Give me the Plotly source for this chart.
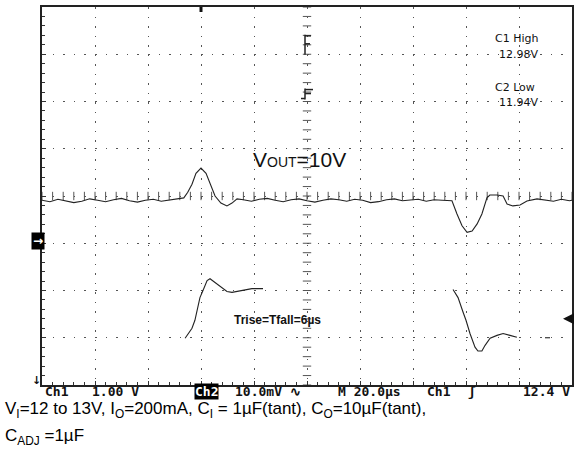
import plotly.graph_objects as go
import numpy as np

# ---------------- data (time in µs, Ch1 in V, Ch2 in mV) ----------------
ch2_t = [0, 3, 6, 9, 12, 15, 18, 21, 24, 27, 30, 33, 36, 39, 42, 45, 48, 51,
         53.5, 55, 56.6, 58.1, 60, 61.9, 63.4, 65.3, 67.5, 69.8, 71.7, 73.6,
         76, 79, 82, 85, 88, 91, 94, 97, 100, 103, 106, 109, 112, 115, 118, 121,
         124, 127, 130, 133, 136, 139, 142, 145, 148, 151,
         154.7, 156.6, 158.5, 160.4, 162.3, 164.2, 166, 167.9, 169, 171.7, 174,
         175.5, 177.7, 180.4, 183, 186.8,
         190, 193, 196, 199, 200]
ch2_mv = [-0.9, -1.2, -0.7, -1.0, -1.4, -1.1, -0.6, -0.9, -1.2, -0.8, -0.5, -1.0, -1.3, -0.9, -0.7, -1.1, -0.8, -0.6,
          -0.4, 0.8, 2.5, 4.8, 5.9, 4.8, 2.5, 0.0, -1.5, -2.1, -1.5, -0.6,
          -0.8, -1.1, -0.7, -0.5, -0.9, -1.2, -0.8, -0.6, -1.0, -1.3, -0.9, -0.6, -0.8, -1.1, -0.7, -0.9,
          -1.4, -1.2, -0.8, -0.6, -1.0, -0.9, -0.7, -1.1, -0.8, -0.9,
          -1.0, -3.8, -6.3, -7.7, -7.4, -5.9, -3.8, -0.4, 0.2, 0.2, 0.0,
          -1.7, -2.1, -1.9, -1.05, -0.6,
          -0.8, -1.1, -0.7, -1.0, -0.9]

ch1_t = [54.0, 56.6, 57.7, 58.9, 59.6, 60.75, 62.3, 63.4, 65.3, 67.9, 69.8, 71.7, 73.6, 76.6, 79.2, 83.4,
         84.0,
         155.1, 157.0, 158.9, 160.0, 161.5, 163.4, 164.5, 166.0, 167.2, 169.1, 171.7, 174.0, 176.6, 179.2,
         180.0,
         189.8, 191.7]
ch1_v = [11.99, 12.2, 12.37, 12.64, 12.85, 13.0, 13.21, 13.25, 13.17, 13.06, 12.98, 12.96, 12.98, 13.02, 13.04, 13.04,
         None,
         13.02, 12.85, 12.54, 12.37, 12.09, 11.80, 11.72, 11.72, 11.84, 11.99, 12.05, 12.09, 12.05, 12.01,
         None,
         12.0, 12.0]

TIME_RANGE = [0, 200]      # 20 µs/div
CH1_RANGE = [11, 19]       # 1 V/div
CH2_RANGE = [-40, 40]      # 10 mV/div
TRIG_T = 60
TRIG_LEVEL = 12.4

bottom_labels = [("Ch1", 43), ("1.00 V", 90), ("10.0mV ∿", 233), ("M 20.0µs", 336),
                 ("Ch1", 425), ("ʃ", 466), ("12.4 V", 521)]

# ---------------- figure ----------------
W, H = 585, 459
L, R, T, B = 42, 572, 5, 385

def px(x):
    return (x - L) / (R - L)

def py(y):
    return (B - y) / (B - T)

fig = go.Figure()

# center crosshair ticks
cy = np.arange(CH1_RANGE[0], CH1_RANGE[1] + 0.001, 0.2)
fig.add_trace(go.Scatter(x=[100] * len(cy), y=cy, mode="markers", hoverinfo="skip",
                         marker=dict(symbol="line-ew", size=6, line=dict(color="#555", width=1))))
cx = np.arange(TIME_RANGE[0], TIME_RANGE[1] + 0.001, 4)
fig.add_trace(go.Scatter(x=cx, y=[15] * len(cx), mode="markers", hoverinfo="skip",
                         marker=dict(symbol="line-ns", size=6, line=dict(color="#555", width=1))))

fig.add_trace(go.Scatter(x=ch1_t, y=ch1_v, mode="lines", connectgaps=False, hoverinfo="skip",
                         line=dict(color="#222", width=1.1), yaxis="y"))
fig.add_trace(go.Scatter(x=ch2_t, y=ch2_mv, mode="lines", hoverinfo="skip",
                         line=dict(color="#222", width=1.1), yaxis="y2"))

axis_common = dict(showticklabels=False, zeroline=False, showline=True, mirror=True,
                   linecolor="#222", linewidth=2, gridcolor="#555", gridwidth=1,
                   ticks="inside", ticklen=4, tickcolor="#333")

fig.update_layout(
    width=W, height=H,
    margin=dict(l=L, r=W - R, t=T, b=H - B, pad=0),
    paper_bgcolor="white", plot_bgcolor="white",
    showlegend=False,
    xaxis=dict(range=TIME_RANGE, dtick=20, griddash="1.5px,8px",
               minor=dict(dtick=4, ticks="inside", ticklen=3, tickcolor="#333"),
               **axis_common),
    yaxis=dict(range=CH1_RANGE, dtick=1, griddash="1.5px,9.1px",
               minor=dict(dtick=0.2, ticks="inside", ticklen=3, tickcolor="#333"),
               **axis_common),
    yaxis2=dict(range=CH2_RANGE, overlaying="y", visible=False),
)

# trigger position marker (top)
fig.add_shape(type="line", xref="x", yref="paper", x0=TRIG_T, x1=TRIG_T, y0=1, y1=1 - 5 / 380,
              line=dict(color="#111", width=3))

# cursor flags on centre axis
for (x0, y0, x1, y1) in [(305, 33, 305, 53), (305, 34, 311, 34), (305, 42, 310, 42),
                         (305, 87, 305, 98), (305, 88, 313, 88), (305, 92, 311, 92), (301, 97, 305, 97)]:
    fig.add_shape(type="line", xref="paper", yref="paper", x0=px(x0), x1=px(x1), y0=py(y0), y1=py(y1),
                  line=dict(color="#222", width=1.5))

anns = []

def ann(text, x, y, size, family="Liberation Sans", xanchor="left", color="#111", **kw):
    anns.append(dict(text=text, x=px(x), y=py(y), xref="paper", yref="paper", xanchor=xanchor,
                     yanchor="middle", showarrow=False, font=dict(size=size, family=family, color=color), **kw))

ann("V<span style='font-size:14px'>OUT</span>=10V", 251, 158, 21)
ann("<b>Trise=Tfall=6µs</b>", 232, 320, 12)
ann("C1 High", 493, 37, 11, family="DejaVu Sans")
ann("12.98V", 497, 53, 11, family="DejaVu Sans")
ann("C2 Low", 493, 86, 11, family="DejaVu Sans")
ann("11.94V", 497, 101, 11, family="DejaVu Sans")

for txt, x in bottom_labels:
    ann("<b>" + txt + "</b>", x, 392, 13, family="DejaVu Sans Mono")
ann("<b>Ch2</b>", 194, 392, 13, family="DejaVu Sans Mono", color="white", bgcolor="black", borderpad=0)

# channel 2 reference marker (left), channel 1 off-screen marker
ann("<b>→</b>", 31, 240, 12, family="DejaVu Sans", color="white", bgcolor="black", borderpad=1)
ann("<b>↓</b>", 30, 380, 11, family="DejaVu Sans")

# trigger level marker (right)
anns.append(dict(x=px(563), y=TRIG_LEVEL, xref="paper", yref="y", ax=11, ay=0, text="",
                 showarrow=True, arrowhead=2, arrowsize=1.1, arrowwidth=2, arrowcolor="#111"))

# caption
ann("V<sub>I</sub>=12 to 13V, I<sub>O</sub>=200mA, C<sub>I</sub> = 1µF(tant), C<sub>O</sub>=10µF(tant),",
    3, 410, 17, color="black")
ann("C<sub>ADJ</sub> =1µF", 3, 437, 17, color="black")

fig.update_layout(annotations=anns)
fig.write_html("out.html", config={"displayModeBar": False},
               post_script="document.body.style.margin='0';")
